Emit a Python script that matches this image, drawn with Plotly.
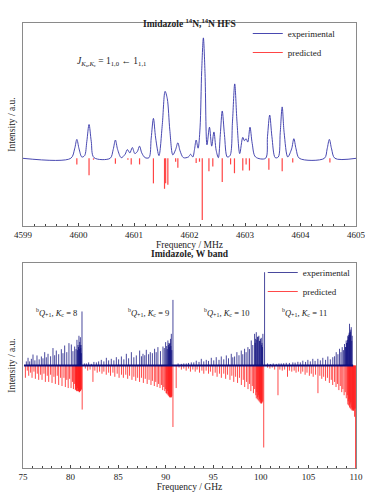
import plotly.graph_objects as go

# ---------------- Top panel: Imidazole 14N,14N HFS ----------------
hfs_exp_freq = [4599.00, 4599.86, 4599.93, 4599.97, 4600.01, 4600.06, 4600.11, 4600.15, 4600.19, 4600.23,
                4600.28, 4600.57, 4600.625, 4600.665, 4600.705, 4600.77, 4600.84, 4600.88, 4600.925, 4600.97,
                4601.015, 4601.06, 4601.10, 4601.14, 4601.20, 4601.27, 4601.31, 4601.35, 4601.39, 4601.45,
                4601.51, 4601.56, 4601.60, 4601.645, 4601.70, 4601.75, 4601.79, 4601.83, 4601.89, 4601.98,
                4602.02, 4602.06, 4602.09, 4602.12, 4602.155, 4602.19, 4602.22, 4602.25, 4602.28, 4602.315,
                4602.36, 4602.40, 4602.44, 4602.48, 4602.52, 4602.555, 4602.59, 4602.63, 4602.68, 4602.73,
                4602.775, 4602.815, 4602.855, 4602.905, 4602.96, 4602.99, 4603.02, 4603.05, 4603.09, 4603.13,
                4603.19, 4603.37, 4603.405, 4603.445, 4603.485, 4603.545, 4603.60, 4603.635, 4603.67, 4603.705,
                4603.77, 4603.84, 4603.88, 4603.92, 4603.98, 4604.43, 4604.48, 4604.52, 4604.56, 4604.62, 4605.00]
hfs_exp_int = [0.00, 0.00, 0.14, 0.28, 0.14, 0.02, 0.04, 0.25, 0.50, 0.25,
               0.01, 0.00, 0.13, 0.27, 0.13, 0.01, 0.06, 0.13, 0.08, 0.16,
               0.07, 0.10, 0.18, 0.08, 0.01, 0.01, 0.30, 0.59, 0.30, 0.04,
               0.50, 0.99, 0.88, 0.42, 0.05, 0.13, 0.23, 0.11, 0.01, 0.02,
               0.06, 0.02, 0.13, 0.27, 0.15, 0.45, 1.30, 1.78, 1.25, 0.20,
               0.46, 0.18, 0.39, 0.12, 0.01, 0.35, 0.70, 0.35, 0.02, 0.04,
               0.55, 1.10, 0.55, 0.07, 0.31, 0.26, 0.29, 0.24, 0.46, 0.22,
               0.02, 0.00, 0.32, 0.64, 0.32, 0.01, 0.02, 0.38, 0.76, 0.38,
               0.02, 0.14, 0.29, 0.14, 0.00, 0.00, 0.14, 0.28, 0.14, 0.00, 0.00]

hfs_pred_freq = [4599.97, 4600.19, 4600.27, 4600.665, 4600.89, 4600.95, 4601.10, 4601.35, 4601.55, 4601.57,
                 4601.61, 4601.75, 4601.79, 4602.12, 4602.18, 4602.23, 4602.35, 4602.42, 4602.59, 4602.74,
                 4602.81, 4602.96, 4603.02, 4603.08, 4603.43, 4603.67, 4603.86, 4604.53]
hfs_pred_int = [0.09, 0.25, 0.02, 0.08, 0.02, 0.09, 0.09, 0.37, 0.45, 0.37,
                0.39, 0.05, 0.14, 0.07, 0.05, 0.91, 0.19, 0.12, 0.35, 0.09,
                0.22, 0.18, 0.09, 0.18, 0.17, 0.19, 0.06, 0.06]

hfs_ticks = [4599, 4600, 4601, 4602, 4603, 4604, 4605]

# ---------------- Bottom panel: Imidazole, W band ----------------
w_exp_freq = [
    # K_c = 8
    75.35, 75.53, 75.70, 75.88, 76.05, 76.25, 76.47, 76.70, 76.93, 77.10, 77.28, 77.45, 77.63, 77.90,
    78.15, 78.33, 78.50, 78.75, 79.03, 79.20, 79.38, 79.60, 79.83, 80.08, 80.25, 80.43, 80.57, 80.67,
    80.78, 80.88, 80.96, 81.03, 81.10, 81.20,
    # K_c = 9
    81.45, 81.66, 81.90, 82.18, 82.45, 82.71, 82.95, 83.23, 83.50, 83.76, 84.00, 84.28, 84.55, 84.81,
    85.05, 85.34, 85.60, 85.86, 86.10, 86.39, 86.65, 86.91, 87.26, 87.45, 87.61, 87.80, 87.96, 88.20,
    88.38, 88.60, 88.83, 89.00, 89.18, 89.45, 89.71, 89.85, 89.99, 90.10, 90.23, 90.33, 90.41, 90.50,
    90.59, 90.76,
    # K_c = 10
    91.30, 91.64, 91.90, 92.16, 92.40, 92.69, 92.95, 93.21, 93.50, 93.74, 94.00, 94.26, 94.50, 94.79,
    95.05, 95.31, 95.60, 95.84, 96.10, 96.37, 96.60, 96.89, 97.05, 97.24, 97.48, 97.70, 97.94, 98.10,
    98.29, 98.45, 98.64, 98.80, 98.99, 99.15, 99.34, 99.45, 99.52, 99.65, 99.79, 99.90, 100.04, 100.12,
    100.21, 100.39,
    # K_c = 11
    100.70, 101.00, 101.30, 101.62, 101.90, 102.14, 102.40, 102.67, 103.00, 103.36, 103.60, 103.89,
    104.15, 104.41, 104.70, 104.94, 105.20, 105.46, 105.70, 105.99, 106.25, 106.51, 106.80, 107.04,
    107.30, 107.56, 107.75, 107.92, 108.10, 108.27, 108.42, 108.55, 108.68, 108.79, 108.88, 108.97,
    109.05, 109.14, 109.23, 109.32, 109.41, 109.50, 109.60,
    # dense lines at the band heads
    80.72, 80.83, 80.92, 81.00, 81.07, 81.13,
    90.16, 90.28, 90.37, 90.45, 90.54, 90.64,
    99.40, 99.58, 99.72, 99.85, 99.97, 100.08, 100.17,
    108.92, 109.01, 109.10, 109.19, 109.28, 109.37, 109.45, 109.55]
w_exp_int = [
    0.040, 0.075, 0.040, 0.065, 0.107, 0.050, 0.098, 0.060, 0.088, 0.070, 0.130, 0.080, 0.114, 0.090,
    0.170, 0.100, 0.146, 0.110, 0.159, 0.120, 0.195, 0.130, 0.218, 0.205, 0.140, 0.185, 0.160, 0.250,
    0.200, 0.290, 0.230, 0.276, 0.200, 0.527,
    0.020, 0.020, 0.030, 0.016, 0.035, 0.030, 0.040, 0.055, 0.040, 0.075, 0.050, 0.065, 0.050, 0.081,
    0.060, 0.088, 0.060, 0.114, 0.070, 0.130, 0.080, 0.098, 0.146, 0.090, 0.114, 0.100, 0.153, 0.110,
    0.130, 0.120, 0.163, 0.130, 0.179, 0.140, 0.185, 0.170, 0.228, 0.190, 0.244, 0.220, 0.210, 0.260,
    0.309, 0.640,
    0.020, 0.016, 0.020, 0.020, 0.025, 0.030, 0.030, 0.047, 0.035, 0.065, 0.040, 0.055, 0.045, 0.075,
    0.050, 0.081, 0.055, 0.088, 0.060, 0.098, 0.070, 0.114, 0.080, 0.088, 0.130, 0.100, 0.146, 0.110,
    0.163, 0.130, 0.179, 0.160, 0.244, 0.200, 0.309, 0.260, 0.325, 0.280, 0.290, 0.240, 0.270, 0.220,
    0.309, 0.910,
    0.020, 0.015, 0.020, 0.016, 0.020, 0.020, 0.022, 0.026, 0.025, 0.030, 0.028, 0.036,
    0.030, 0.047, 0.035, 0.055, 0.040, 0.065, 0.045, 0.065, 0.050, 0.075, 0.055, 0.088,
    0.060, 0.081, 0.090, 0.130, 0.110, 0.163, 0.130, 0.179, 0.150, 0.210, 0.180, 0.244,
    0.220, 0.290, 0.300, 0.407, 0.330, 0.374, 0.290,
    0.15, 0.18, 0.16, 0.20, 0.17, 0.12,
    0.16, 0.20, 0.18, 0.22, 0.19, 0.15,
    0.22, 0.25, 0.28, 0.24, 0.26, 0.20, 0.18,
    0.18, 0.22, 0.25, 0.28, 0.32, 0.30, 0.35, 0.24]
w_exp_baseline_freq = [75.10, 109.70]
w_exp_baseline_int = [0.0, 0.0]

w_pred_freq = [
    # K_c = 8
    75.25, 75.45, 75.60, 75.80, 75.95, 76.15, 76.30, 76.50, 76.65, 76.85, 77.00, 77.20, 77.35, 77.55,
    77.70, 77.90, 78.05, 78.25, 78.40, 78.60, 78.75, 78.95, 79.10, 79.30, 79.45, 79.60, 79.75, 79.90,
    80.05, 80.20, 80.30, 80.40, 80.50, 80.58, 80.65, 80.72, 80.80, 80.87, 80.94, 81.00, 81.07, 81.22,
    # K_c = 9
    81.55, 81.80, 82.05, 82.35, 82.55, 82.80, 83.05, 83.30, 83.50, 83.75, 84.00, 84.20, 84.45, 84.65,
    84.90, 85.10, 85.35, 85.55, 85.80, 86.00, 86.20, 86.45, 86.65, 86.85, 87.05, 87.25, 87.45, 87.65,
    87.85, 88.05, 88.25, 88.45, 88.60, 88.80, 88.95, 89.10, 89.25, 89.40, 89.55, 89.68, 89.80, 89.90,
    90.00, 90.10, 90.20, 90.28, 90.36, 90.44, 90.52, 90.60, 90.76, 91.10,
    # K_c = 10
    91.40, 91.65, 91.90, 92.15, 92.40, 92.60, 92.85, 93.10, 93.30, 93.55, 93.80, 94.00, 94.25, 94.50,
    94.70, 94.95, 95.20, 95.40, 95.65, 95.85, 96.10, 96.30, 96.50, 96.75, 96.95, 97.15, 97.35, 97.55,
    97.75, 97.95, 98.15, 98.30, 98.50, 98.65, 98.80, 98.95, 99.10, 99.22, 99.35, 99.47, 99.58, 99.68,
    99.78, 99.86, 99.94, 100.02, 100.10, 100.30,
    # K_c = 11
    100.70, 100.95, 101.20, 101.45, 101.80, 102.00, 102.25, 102.50, 102.80, 103.00, 103.25, 103.50,
    103.70, 103.95, 104.20, 104.40, 104.65, 104.85, 105.10, 105.30, 105.50, 105.75, 106.00, 106.20,
    106.40, 106.60, 106.80, 107.00, 107.20, 107.40, 107.55, 107.75, 107.90, 108.05, 108.20, 108.35,
    108.50, 108.62, 108.75, 108.87, 108.98, 109.08, 109.18, 109.28, 109.37, 109.46, 109.55, 109.64,
    109.72, 109.85, 109.95,
    # dense lines at the band heads
    80.54, 80.61, 80.68, 80.76, 80.83, 80.90, 80.97, 81.03, 81.10, 81.14,
    90.04, 90.14, 90.24, 90.32, 90.40, 90.48, 90.56, 90.64,
    99.52, 99.63, 99.73, 99.82, 99.90, 99.98, 100.06, 100.14, 100.20,
    109.14, 109.23, 109.32, 109.41, 109.50, 109.59, 109.68, 109.76, 109.80, 109.90]
w_pred_int = [
    0.12, 0.05, 0.10, 0.07, 0.12, 0.06, 0.13, 0.08, 0.14, 0.09, 0.14, 0.08, 0.16, 0.10,
    0.16, 0.09, 0.17, 0.11, 0.18, 0.10, 0.19, 0.12, 0.20, 0.12, 0.21, 0.14, 0.22, 0.13,
    0.22, 0.16, 0.23, 0.18, 0.24, 0.20, 0.25, 0.22, 0.25, 0.24, 0.26, 0.25, 0.24, 0.43,
    0.03, 0.05, 0.04, 0.16, 0.05, 0.07, 0.06, 0.08, 0.06, 0.09, 0.07, 0.10, 0.07, 0.11,
    0.08, 0.12, 0.09, 0.12, 0.09, 0.13, 0.10, 0.14, 0.11, 0.15, 0.12, 0.16, 0.12, 0.17,
    0.13, 0.18, 0.14, 0.19, 0.15, 0.20, 0.16, 0.21, 0.18, 0.22, 0.19, 0.24, 0.21, 0.25,
    0.23, 0.27, 0.25, 0.28, 0.29, 0.30, 0.31, 0.31, 0.60, 0.22,
    0.02, 0.04, 0.03, 0.05, 0.03, 0.06, 0.04, 0.06, 0.04, 0.07, 0.05, 0.08, 0.05, 0.08,
    0.06, 0.10, 0.07, 0.11, 0.08, 0.12, 0.08, 0.13, 0.09, 0.14, 0.10, 0.16, 0.11, 0.17,
    0.12, 0.19, 0.14, 0.21, 0.16, 0.23, 0.18, 0.25, 0.20, 0.27, 0.23, 0.29, 0.26, 0.31,
    0.29, 0.33, 0.34, 0.36, 0.37, 0.80,
    0.02, 0.03, 0.02, 0.04, 0.29, 0.04, 0.05, 0.04, 0.11, 0.05, 0.06, 0.05,
    0.07, 0.06, 0.08, 0.06, 0.09, 0.07, 0.10, 0.08, 0.11, 0.09, 0.27, 0.10,
    0.13, 0.11, 0.15, 0.12, 0.17, 0.14, 0.19, 0.16, 0.21, 0.18, 0.24, 0.20,
    0.26, 0.23, 0.29, 0.26, 0.32, 0.29, 0.35, 0.33, 0.38, 0.36, 0.41, 0.43,
    0.44, 0.50, 1.10,
    0.23, 0.24, 0.25, 0.25, 0.25, 0.26, 0.25, 0.25, 0.24, 0.23,
    0.27, 0.28, 0.29, 0.30, 0.31, 0.31, 0.31, 0.30,
    0.32, 0.33, 0.34, 0.35, 0.36, 0.37, 0.37, 0.36, 0.35,
    0.38, 0.39, 0.41, 0.42, 0.43, 0.44, 0.44, 0.44, 0.43, 0.42]

w_ticks = [75, 80, 85, 90, 95, 100, 105, 110]
band_labels = ["8", "9", "10", "11"]
band_label_freq = [78.5, 88.2, 96.4, 104.6]


def sticks(freqs, vals, sign=1.0):
    xs, ys = [], []
    for f, v in zip(freqs, vals):
        xs += [f, f, None]
        ys += [0.0, sign * v, None]
    return xs, ys


FONT = "Liberation Serif"
BLUE = "#3434a8"
NAVY = "#0c0c7c"

fig = go.Figure()

# top panel
px_, py_ = sticks(hfs_pred_freq, hfs_pred_int, -1.0)
fig.add_trace(go.Scatter(x=px_, y=py_, mode="lines", name="predicted",
                         line=dict(color="#ff4545", width=1.2),
                         xaxis="x", yaxis="y", legend="legend", legendrank=2))
fig.add_trace(go.Scatter(x=hfs_exp_freq, y=hfs_exp_int, mode="lines", name="experimental",
                         line=dict(color=BLUE, width=0.9, shape="spline", smoothing=0.9),
                         xaxis="x", yaxis="y", legend="legend", legendrank=1))

# bottom panel
wx, wy = sticks(w_pred_freq, w_pred_int, -1.0)
fig.add_trace(go.Scatter(x=wx, y=wy, mode="lines", name="predicted",
                         line=dict(color="#ff1a1a", width=0.8),
                         xaxis="x2", yaxis="y2", legend="legend2", legendrank=2))
ex, ey = sticks(w_exp_freq, w_exp_int, 1.0)
fig.add_trace(go.Scatter(x=ex, y=ey, mode="lines", name="experimental",
                         line=dict(color=NAVY, width=0.75),
                         xaxis="x2", yaxis="y2", legend="legend2", legendrank=1,
                         legendgroup="wexp"))
fig.add_trace(go.Scatter(x=w_exp_baseline_freq, y=w_exp_baseline_int, mode="lines",
                         line=dict(color=NAVY, width=2.2), showlegend=False,
                         xaxis="x2", yaxis="y2", legendgroup="wexp", hoverinfo="skip"))

W, H = 365, 492
L, R = 23, 356
top_dom = [1 - 226 / H, 1 - 23 / H]
bot_dom = [1 - 468 / H, 1 - 263 / H]

frame = dict(showline=True, linecolor="#8a8a8a", linewidth=1.3, mirror=True,
             showgrid=False, zeroline=False, automargin=False)
xcommon = dict(frame, ticks="inside", ticklen=3, tickcolor="#444", tickwidth=0.8,
               ticklabeloverflow="allow",
               tickfont=dict(family=FONT, size=9, color="#222"))
ycommon = dict(frame, showticklabels=False, ticks="")

fig.update_layout(
    width=W, height=H,
    margin=dict(l=L, r=W - R, t=0, b=0, autoexpand=False),
    paper_bgcolor="white", plot_bgcolor="white",
    font=dict(family=FONT, size=9, color="#222"),
    xaxis=dict(xcommon, domain=[0, 1], range=[4599, 4605], anchor="y",
               tickvals=hfs_ticks, ticktext=[str(t) for t in hfs_ticks],
               minor=dict(dtick=0.2, ticks="inside", ticklen=2, tickcolor="#444"),
               title=dict(text="Frequency / MHz", font=dict(family=FONT, size=9.5), standoff=2)),
    yaxis=dict(ycommon, domain=top_dom, range=[-1, 2], anchor="x",
               title=dict(text="Intensity / a.u.", font=dict(family=FONT, size=9.5), standoff=4)),
    xaxis2=dict(xcommon, domain=[0, 1], range=[75, 110], anchor="y2",
                tickvals=w_ticks, ticktext=[str(t) for t in w_ticks],
                minor=dict(dtick=1, ticks="inside", ticklen=2, tickcolor="#444"),
                title=dict(text="Frequency / GHz", font=dict(family=FONT, size=9.5), standoff=2)),
    yaxis2=dict(ycommon, domain=bot_dom, range=[-1, 1], anchor="x2",
                title=dict(text="Intensity / a.u.", font=dict(family=FONT, size=9.5), standoff=4)),
    legend=dict(x=0.675, y=1 - 19 / H, xanchor="left", yanchor="top",
                bgcolor="rgba(255,255,255,0)", font=dict(family=FONT, size=9),
                tracegroupgap=0, itemwidth=30),
    legend2=dict(x=0.72, y=1 - 258 / H, xanchor="left", yanchor="top",
                 bgcolor="rgba(255,255,255,0)", font=dict(family=FONT, size=9),
                 tracegroupgap=0, itemwidth=30),
    showlegend=True,
)

annos = [
    dict(text="<b>Imidazole <sup>14</sup>N,<sup>14</sup>N HFS</b>", x=0.5, y=1 - 15 / H,
         xref="x domain", yref="paper", showarrow=False, font=dict(family=FONT, size=9.5)),
    dict(text="<b>Imidazole, W band</b>", x=0.5, y=1 - 254 / H,
         xref="x2 domain", yref="paper", showarrow=False, font=dict(family=FONT, size=9.5)),
    dict(text="<i>J</i><sub><i>K</i><sub>a</sub>,<i>K</i><sub>c</sub></sub> = 1<sub>1,0</sub> \u2190 1<sub>1,1</sub>",
         x=4600.6, y=1.42, xref="x", yref="y", showarrow=False, font=dict(family=FONT, size=9.5)),
]
for lab, f in zip(band_labels, band_label_freq):
    annos.append(dict(text="<sup>b</sup><i>Q</i><sub>+1</sub>, <i>K</i><sub>c</sub> = " + lab,
                      x=f, y=0.52, xref="x2", yref="y2", showarrow=False,
                      font=dict(family=FONT, size=8.5)))
fig.update_layout(annotations=annos)

fig.write_html("out.html", config={"displayModeBar": False},
               post_script="document.body.style.margin='0px';")
